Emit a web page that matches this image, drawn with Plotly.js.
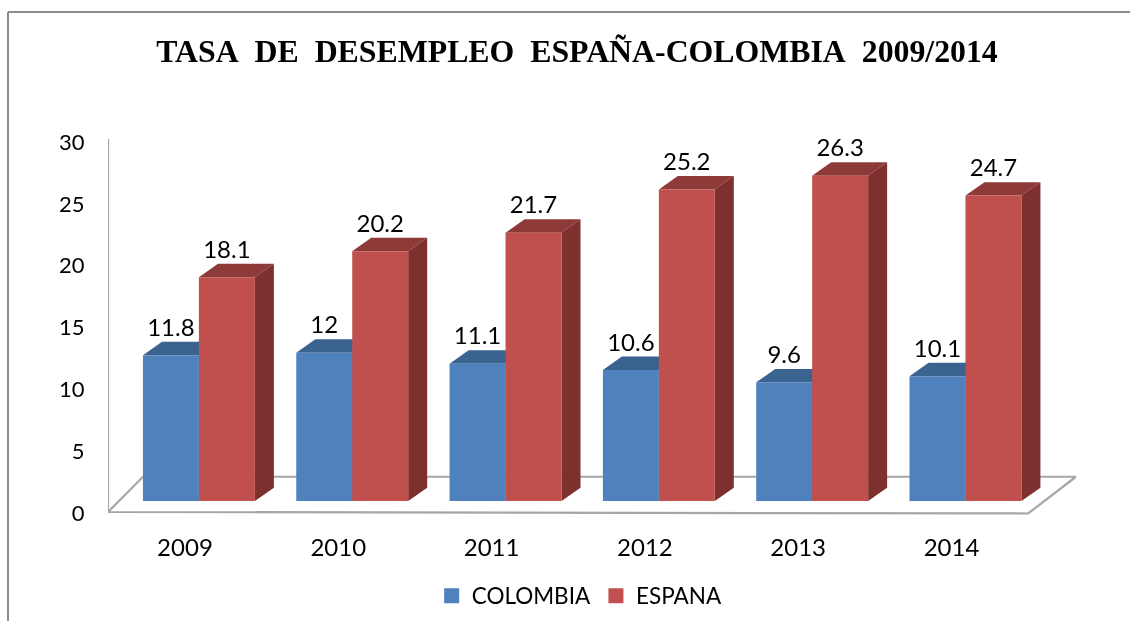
<!DOCTYPE html>
<html><head><meta charset="utf-8">
<script src="https://cdn.plot.ly/plotly-3.0.1.min.js"></script>
<style>html,body{margin:0;padding:0;background:#fff;overflow:hidden}#c{width:1130px;height:621px;filter:blur(0.35px)}</style>
</head><body><div id="c"></div>
<script>
const years = [2009, 2010, 2011, 2012, 2013, 2014];
const colombia = [11.8, 12, 11.1, 10.6, 9.6, 10.1];
const espana = [18.1, 20.2, 21.7, 25.2, 26.3, 24.7];
const yTicks = [0, 5, 10, 15, 20, 25, 30];
const titleText = "TASA\u00A0 DE\u00A0 DESEMPLEO\u00A0 ESPAÑA-COLOMBIA\u00A0 2009/2014";

const FONT = "Lato, Carlito, sans-serif";
const BASE = 0.8, W = 0.365, OFF_B = -0.274, OFF_R = 0.091;
const DX = 0.124, DY = 1.09, LABEL_UP = 2.05;
const BLUE = "#4F81BD", RED = "#C0504D", BLUE_TOP = "#3B6390", RED_TOP = "#8E3A38", BLUE_SIDE = "#3B6390", RED_SIDE = "#7D302E";
const GREY = "#A6A6A6";

function poly(pts, color) {
  return {type: "path", layer: "below", xref: "x", yref: "y", fillcolor: color, line: {width: 0},
    path: "M" + pts.map(p => p[0] + "," + p[1]).join("L") + "Z"};
}
function faces(year, off, val, top, side) {
  const x0 = year + off, x1 = x0 + W, yT = BASE + val, yB = BASE;
  return [
    poly([[x0, yT], [x0 + DX, yT + DY], [x1 + DX, yT + DY], [x1, yT]], top),
    poly([[x1, yB], [x1 + DX, yB + DY], [x1 + DX, yT + DY], [x1, yT]], side)
  ];
}
const x0Axis = years[0] - 0.502, xEnd = years[0] + 5.812;
const shapes = [
  {type: "path", layer: "below", xref: "x", yref: "y", line: {color: GREY, width: 2.2}, fillcolor: "rgba(0,0,0,0)",
   path: `M${x0Axis},-0.08L${x0Axis + 0.228},2.77L${xEnd},2.77L${xEnd - 0.312},-0.2Z`},
  {type: "line", layer: "below", xref: "x", yref: "y", x0: x0Axis, x1: x0Axis, y0: -0.08, y1: 30.1, line: {color: GREY, width: 2.2}},
  {type: "line", xref: "paper", yref: "paper", x0: -0.1033, x1: 1.0600, y0: 1.3263, y1: 1.3263, line: {color: "#8C8C8C", width: 2}},
  {type: "line", xref: "paper", yref: "paper", x0: -0.1033, x1: -0.1033, y0: 1.3263, y1: -0.30, line: {color: "#8C8C8C", width: 2}}
];
years.forEach((y, i) => {
  shapes.push(...faces(y, OFF_B, colombia[i], BLUE_TOP, BLUE_SIDE));
  shapes.push(...faces(y, OFF_R, espana[i], RED_TOP, RED_SIDE));
});

const labelFont = {family: FONT, size: 24, color: "#000"};
const traces = [
  {type: "bar", name: "COLOMBIA", x: years, y: colombia, base: BASE, width: W, offset: OFF_B,
   marker: {color: BLUE, line: {width: 0}}, showlegend: false, hoverinfo: "skip"},
  {type: "bar", name: "ESPANA", x: years, y: espana, base: BASE, width: W, offset: OFF_R,
   marker: {color: RED, line: {width: 0}}, showlegend: false, hoverinfo: "skip"},
  {type: "scatter", mode: "text", x: years.map(y => y + OFF_B + W / 2), y: colombia.map(v => v + BASE + LABEL_UP),
   text: colombia.map(String), textposition: "middle center", textfont: labelFont, showlegend: false, hoverinfo: "skip", cliponaxis: false},
  {type: "scatter", mode: "text", x: years.map(y => y + OFF_R + W / 2), y: espana.map(v => v + BASE + LABEL_UP),
   text: espana.map(String), textposition: "middle center", textfont: labelFont, showlegend: false, hoverinfo: "skip", cliponaxis: false},
  {type: "scatter", mode: "markers", name: "COLOMBIA", x: [null], y: [null], marker: {symbol: "square", size: 15, color: BLUE}},
  {type: "scatter", mode: "markers", name: "ESPANA", x: [null], y: [null], marker: {symbol: "square", size: 15, color: RED}}
];
const layout = {
  width: 1130, height: 621,
  margin: {l: 108, r: 54, t: 136, b: 105, pad: 0, autoexpand: false},
  paper_bgcolor: "#fff", plot_bgcolor: "rgba(0,0,0,0)",
  barmode: "overlay",
  title: {text: titleText, font: {family: "Liberation Serif, serif", size: 31.8, color: "#000", weight: 700},
          x: 577 / 1130, xanchor: "center", xref: "container", y: 1 - 51 / 621, yanchor: "middle", yref: "container"},
  xaxis: {type: "linear", range: [x0Axis, xEnd], tickvals: years, ticktext: years.map(String), showgrid: false, zeroline: false, showline: false,
          ticks: "outside", ticklen: 10, tickcolor: "rgba(0,0,0,0)", tickfont: {family: FONT, size: 24, color: "#000"}},
  yaxis: {range: [-0.404, 30.32], tickvals: yTicks, showgrid: false, zeroline: false, showline: false, ticklabelshift: 2,
          ticks: "outside", ticklen: 18, tickcolor: "rgba(0,0,0,0)", tickfont: {family: FONT, size: 22, color: "#000"}},
  legend: {orientation: "h", xref: "container", yref: "container", x: 0.382, xanchor: "left", y: 1 - 596 / 621, yanchor: "middle",
           font: {family: FONT, size: 22.5, color: "#000"}, itemsizing: "trace", bgcolor: "rgba(0,0,0,0)", traceorder: "normal"},
  shapes: shapes,
  font: {family: FONT}
};
Plotly.newPlot("c", traces, layout, {displayModeBar: false, staticPlot: true});
</script></body></html>
